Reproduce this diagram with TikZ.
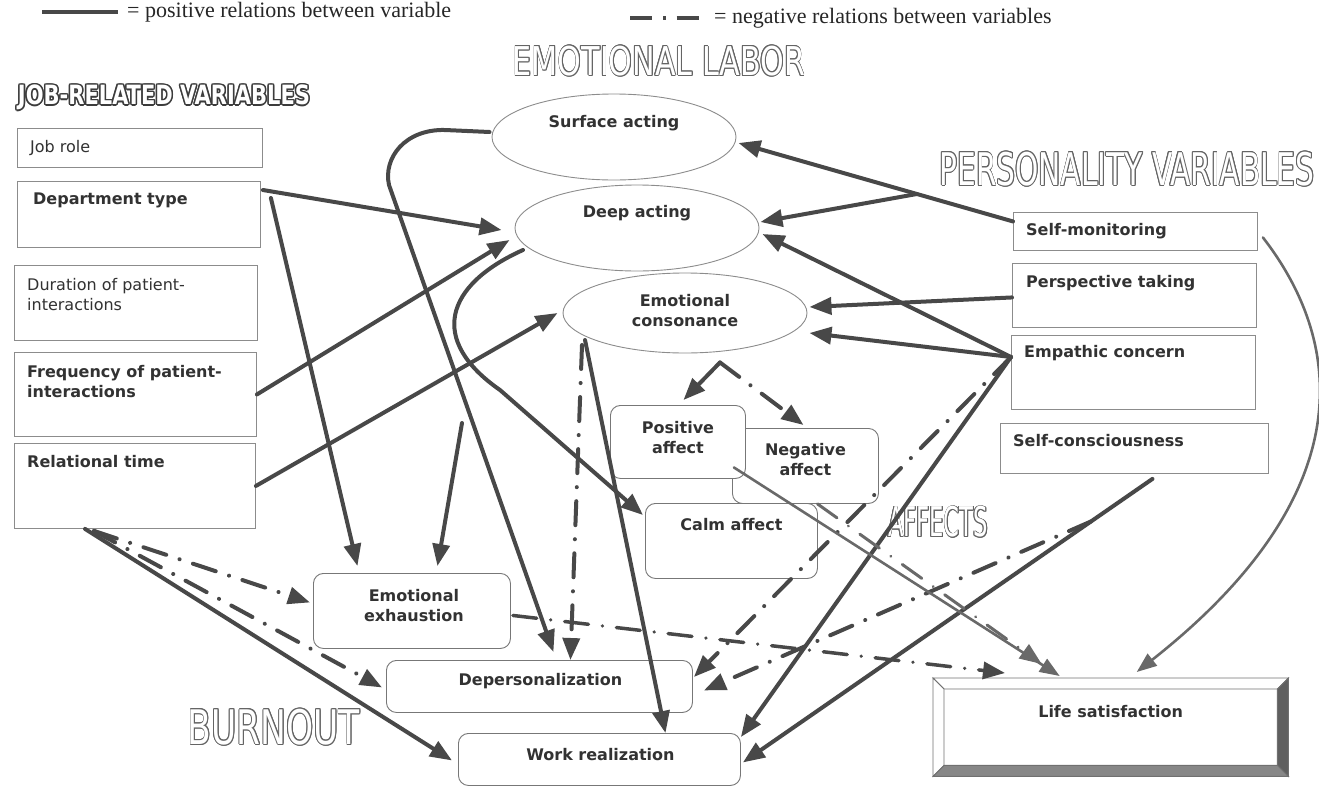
\documentclass[tikz,border=0pt]{standalone}
\usepackage{fontspec}
\usepackage{graphicx}
\setmainfont{Liberation Serif}
\newfontfamily\boxfont{DejaVu Sans}
\newfontfamily\condfont{DejaVu Sans Condensed}
\usetikzlibrary{shapes.geometric,arrows.meta,calc}

\definecolor{ink}{RGB}{72,72,72}
\definecolor{thinink}{RGB}{105,105,105}
\definecolor{frame}{RGB}{140,140,140}
\definecolor{txt}{RGB}{50,50,50}
\definecolor{ttl}{RGB}{100,100,100}
\definecolor{ttldark}{RGB}{60,60,60}
\definecolor{bevdark}{RGB}{95,95,95}
\definecolor{bevmid}{RGB}{135,135,135}

% outlined heading: coloured copies around a white core
\newcommand{\outlinetitle}[8]{%
  \foreach \ang in {0,30,...,330}{%
    \node[inner sep=0, text=#8, xshift={#7*cos(\ang)}, yshift={#7*sin(\ang)}] (#1-\ang) at (#2)
      {\resizebox*{#3pt}{#4pt}{#5#6}};}%
  \node[inner sep=0, text=white] (#1) at (#2) {\resizebox*{#3pt}{#4pt}{#5#6}};}

\tikzset{
  jbox/.style={draw=frame, line width=0.9pt, fill=white, rectangle, anchor=north west, inner sep=0},
  rbox/.style={jbox, rounded corners=10pt, draw=frame!85!black},
  ebox/.style={draw=frame, line width=0.9pt, fill=white, ellipse, inner sep=0,
               minimum width=244, minimum height=86},
  bt/.style={font=\boxfont\bfseries\fontsize{16}{20}\selectfont, text=txt, inner sep=0},
  rt/.style={font=\boxfont\fontsize{16}{20}\selectfont, text=txt, inner sep=0},
  legend/.style={font=\fontsize{22}{24}\selectfont, text=black!85, inner sep=0, anchor=west},
  posline/.style={draw=ink, line width=4pt, line cap=round, -{Triangle[length=22pt,width=17pt]}},
  negline/.style={posline, dash pattern=on 24pt off 14pt on 0.1pt off 14pt},
  thinline/.style={draw=thinink, line width=2.6pt, line cap=round, -{Triangle[length=20pt,width=15pt]}},
}

\begin{document}
\begin{tikzpicture}[x=1pt,y=-1pt]
\useasboundingbox (0,0) rectangle (1319,787);

% ---------- legend ----------
\coordinate (lg-a) at (42,12);
\coordinate (lg-b) at (118,12);
\draw[ink, line width=4pt] (lg-a) -- (lg-b);
\node[legend] (lg-pos) at (127,12) {= positive relations between variable};
\coordinate (lg-c) at (630,18);
\coordinate (lg-d) at (709,18);
\draw[ink, line width=4pt, dash pattern=on 22pt off 11pt on 2.5pt off 11pt] (lg-c) -- (lg-d);
\node[legend] (lg-neg) at (714,18) {= negative relations between variables};

% ---------- headings ----------
\outlinetitle{ttljob}{164,97.5}{292}{25}{\condfont\bfseries}{JOB-RELATED VARIABLES}{1.5}{ttldark}
\outlinetitle{ttlemo}{659,61}{292}{30}{\condfont}{EMOTIONAL LABOR}{0.9}{ttl}
\outlinetitle{ttlper}{1127,169}{375}{34}{\condfont}{PERSONALITY VARIABLES}{0.9}{ttl}
\outlinetitle{ttlaff}{938,522}{100}{31}{\condfont}{AFFECTS}{0.9}{ttl}
\outlinetitle{ttlbur}{274,727}{172}{36}{\condfont}{BURNOUT}{0.9}{ttl}

% ---------- job-related variables ----------
\node[jbox, minimum width=245, minimum height=39] (jobrole) at (17,128) {};
\node[rt, anchor=west] (jobrole-t) at ([shift={(13,20)}]jobrole.north west) {Job role};
\node[jbox, minimum width=243, minimum height=66] (dept) at (17,181) {};
\node[bt, anchor=west] (dept-t) at ([shift={(16,19)}]dept.north west) {Department type};
\node[jbox, minimum width=243, minimum height=75] (durat) at (14,265) {};
\node[rt, anchor=west, align=left] (durat-t) at ([shift={(13,29.5)}]durat.north west) {Duration of patient-\\interactions};
\node[jbox, minimum width=242, minimum height=84] (freq) at (14,352) {};
\node[bt, anchor=west, align=left] (freq-t) at ([shift={(13,30)}]freq.north west) {Frequency of patient-\\interactions};
\node[jbox, minimum width=241, minimum height=85] (relt) at (14,443) {};
\node[bt, anchor=west] (relt-t) at ([shift={(13,19)}]relt.north west) {Relational time};

% ---------- emotional labor ----------
\node[ebox] (surf) at (614,137) {};
\node[bt] (surf-t) at ([shift={(0,-14)}]surf.center) {Surface acting};
\node[ebox] (deep) at (637,228) {};
\node[bt] (deep-t) at ([shift={(0,-15)}]deep.center) {Deep acting};
\node[ebox, minimum height=80] (cons) at (685,313) {};
\node[bt, align=center] (cons-t) at ([shift={(0,-2)}]cons.center) {Emotional\\consonance};

% ---------- personality variables ----------
\node[jbox, minimum width=244, minimum height=38] (selfmon) at (1013,212) {};
\node[bt, anchor=west] (selfmon-t) at ([shift={(13,19)}]selfmon.north west) {Self-monitoring};
\node[jbox, minimum width=244, minimum height=64] (persp) at (1012,263) {};
\node[bt, anchor=west] (persp-t) at ([shift={(14,20)}]persp.north west) {Perspective taking};
\node[jbox, minimum width=244, minimum height=74] (empath) at (1011,335) {};
\node[bt, anchor=west] (empath-t) at ([shift={(13,18)}]empath.north west) {Empathic concern};
\node[jbox, minimum width=268, minimum height=50] (selfcon) at (1000,423) {};
\node[bt, anchor=west] (selfcon-t) at ([shift={(13,18)}]selfcon.north west) {Self-consciousness};

% ---------- affects ----------
\node[rbox, minimum width=146, minimum height=75] (negaff) at (732,428) {};
\node[rbox, minimum width=135, minimum height=73] (posaff) at (610,405) {};
\node[bt, align=center] (negaff-t) at ([shift={(0,32)}]negaff.north) {Negative\\affect};
\node[bt, align=center] (posaff-t) at ([shift={(0,33)}]posaff.north) {Positive\\affect};
\node[rbox, minimum width=172, minimum height=75] (calm) at (645,503) {};
\node[bt] (calm-t) at ([shift={(0,22)}]calm.north) {Calm affect};

% ---------- burnout ----------
\node[rbox, minimum width=197, minimum height=75] (exh) at (313,573) {};
\node[bt, align=center] (exh-t) at ([shift={(2,33)}]exh.north) {Emotional\\exhaustion};
\node[rbox, minimum width=306, minimum height=52] (depers) at (386,660) {};
\node[bt] (depers-t) at ([shift={(1,21)}]depers.north) {Depersonalization};
\node[rbox, minimum width=282, minimum height=52] (workr) at (458,733) {};
\node[bt] (workr-t) at ([shift={(1,22)}]workr.north) {Work realization};

% ---------- life satisfaction (bevelled frame) ----------
\node[anchor=north west, inner sep=0, minimum width=355, minimum height=98] (life) at (933,678) {};
\coordinate (lo1) at (life.north west);
\coordinate (lo2) at (life.north east);
\coordinate (lo3) at (life.south east);
\coordinate (lo4) at (life.south west);
\coordinate (li1) at ([shift={(11,11)}]life.north west);
\coordinate (li2) at ([shift={(-11,11)}]life.north east);
\coordinate (li3) at ([shift={(-11,-11)}]life.south east);
\coordinate (li4) at ([shift={(11,-11)}]life.south west);
\filldraw[fill=white, draw=frame!80!black, line width=0.9pt] (lo1) -- (lo2) -- (li2) -- (li1) -- cycle;
\filldraw[fill=white, draw=frame!80!black, line width=0.9pt] (lo1) -- (li1) -- (li4) -- (lo4) -- cycle;
\filldraw[fill=bevdark, draw=frame!80!black, line width=0.9pt] (lo2) -- (lo3) -- (li3) -- (li2) -- cycle;
\filldraw[fill=bevmid, draw=frame!80!black, line width=0.9pt] (lo4) -- (li4) -- (li3) -- (lo3) -- cycle;
\node[bt] (life-t) at ([shift={(0,34)}]life.north) {Life satisfaction};

% ---------- shared connector points ----------
\coordinate (ec-out) at ([shift={(0,22)}]empath.north west);
\coordinate (sm-out) at ([shift={(0,-10)}]selfmon.west);
\coordinate (surf-in) at ([shift={(2,6)}]surf.east);
\coordinate (sm-fork) at ($(sm-out)!0.35!(surf-in)$);
\coordinate (sc-out) at ([shift={(18,5)}]selfcon.south);
\coordinate (wr-in) at ([shift={(2,3)}]workr.east);
\coordinate (sc-fork) at ($(sc-out)!0.15!(wr-in)$);
\coordinate (rt-out) at ([shift={(71,0)}]relt.south west);
\coordinate (rt-out2) at ([shift={(80,2)}]relt.south west);
\coordinate (caret) at ([shift={(35,9)}]cons.south);
\coordinate (exh-src) at (462,423);

% ---------- job-related connectors ----------
\draw[posline] ([shift={(2,9)}]dept.north east) -- ([shift={(-13,2)}]deep.west);
\draw[posline] ([shift={(10,17)}]dept.north east) -- ([shift={(-54.5,-7)}]exh.north);
\draw[posline] (freq.east) -- ([shift={(-5,12)}]deep.west);
\draw[posline] (relt.east) -- ([shift={(-5,0)}]cons.west);
\draw[negline] (rt-out2) -- ([shift={(-3,-8.5)}]exh.west);
\draw[negline] (rt-out2) -- ([shift={(-4,1)}]depers.west);
\draw[posline] (rt-out) -- ([shift={(-6,1)}]workr.west);

% ---------- emotional labor connectors ----------
\draw[posline] ([shift={(-2,-5)}]surf.west) -- (445,130) .. controls (405,129) and (383,158) .. (389,185)
  -- ([shift={(14,-8)}]depers.north);
\draw[posline] ([shift={(-114,22)}]deep.center) .. controls (445,285) and (428,340) .. (500,390)
  -- ([shift={(-2,12)}]calm.north west);
\draw[posline] (exh-src) -- ([shift={(25.5,-7)}]exh.north);
\draw[posline] ([shift={(-100,27)}]cons.center) -- ([shift={(66,0)}]workr.north);
\draw[negline] ([shift={(-103,32)}]cons.center) -- ([shift={(31,0)}]depers.north);
\draw[posline] (caret) -- ([shift={(5.5,-5)}]posaff.north);
\draw[negline] (caret) -- ([shift={(-2,-3)}]negaff.north);

% ---------- personality connectors ----------
\draw[posline] (sm-out) -- (surf-in);
\draw[posline] (sm-fork) -- ([shift={(1,-6)}]deep.east);
\draw[posline] (ec-out) -- ([shift={(3,6)}]deep.east);
\draw[posline] ([shift={(0,2)}]persp.west) -- ([shift={(2,-6)}]cons.east);
\draw[posline] (ec-out) -- ([shift={(2,20)}]cons.east);
\draw[negline] (ec-out) -- ([shift={(1,17)}]depers.north east);
\draw[posline] (ec-out) -- ([shift={(0,4)}]workr.north east);
\draw[posline] (sc-out) -- (wr-in);
\draw[negline] (sc-fork) -- ([shift={(11,4)}]depers.east);
\draw[thinline] ([shift={(5,6)}]selfmon.east) .. controls (1350,350) and (1355,500) .. ([shift={(26,-6)}]life.north);

% ---------- towards life satisfaction ----------
\draw[thinline] ([shift={(-12,25.5)}]posaff.east) -- ([shift={(-51,-2)}]life.north);
\draw[negline, draw=thinink, line width=3pt] ([shift={(12,0)}]negaff.south) -- ([shift={(-69,-14)}]life.north);
\draw[negline, line width=3.5pt] ([shift={(2,4.5)}]exh.east) -- ([shift={(72,-5)}]life.north west);

\end{tikzpicture}
\end{document}
